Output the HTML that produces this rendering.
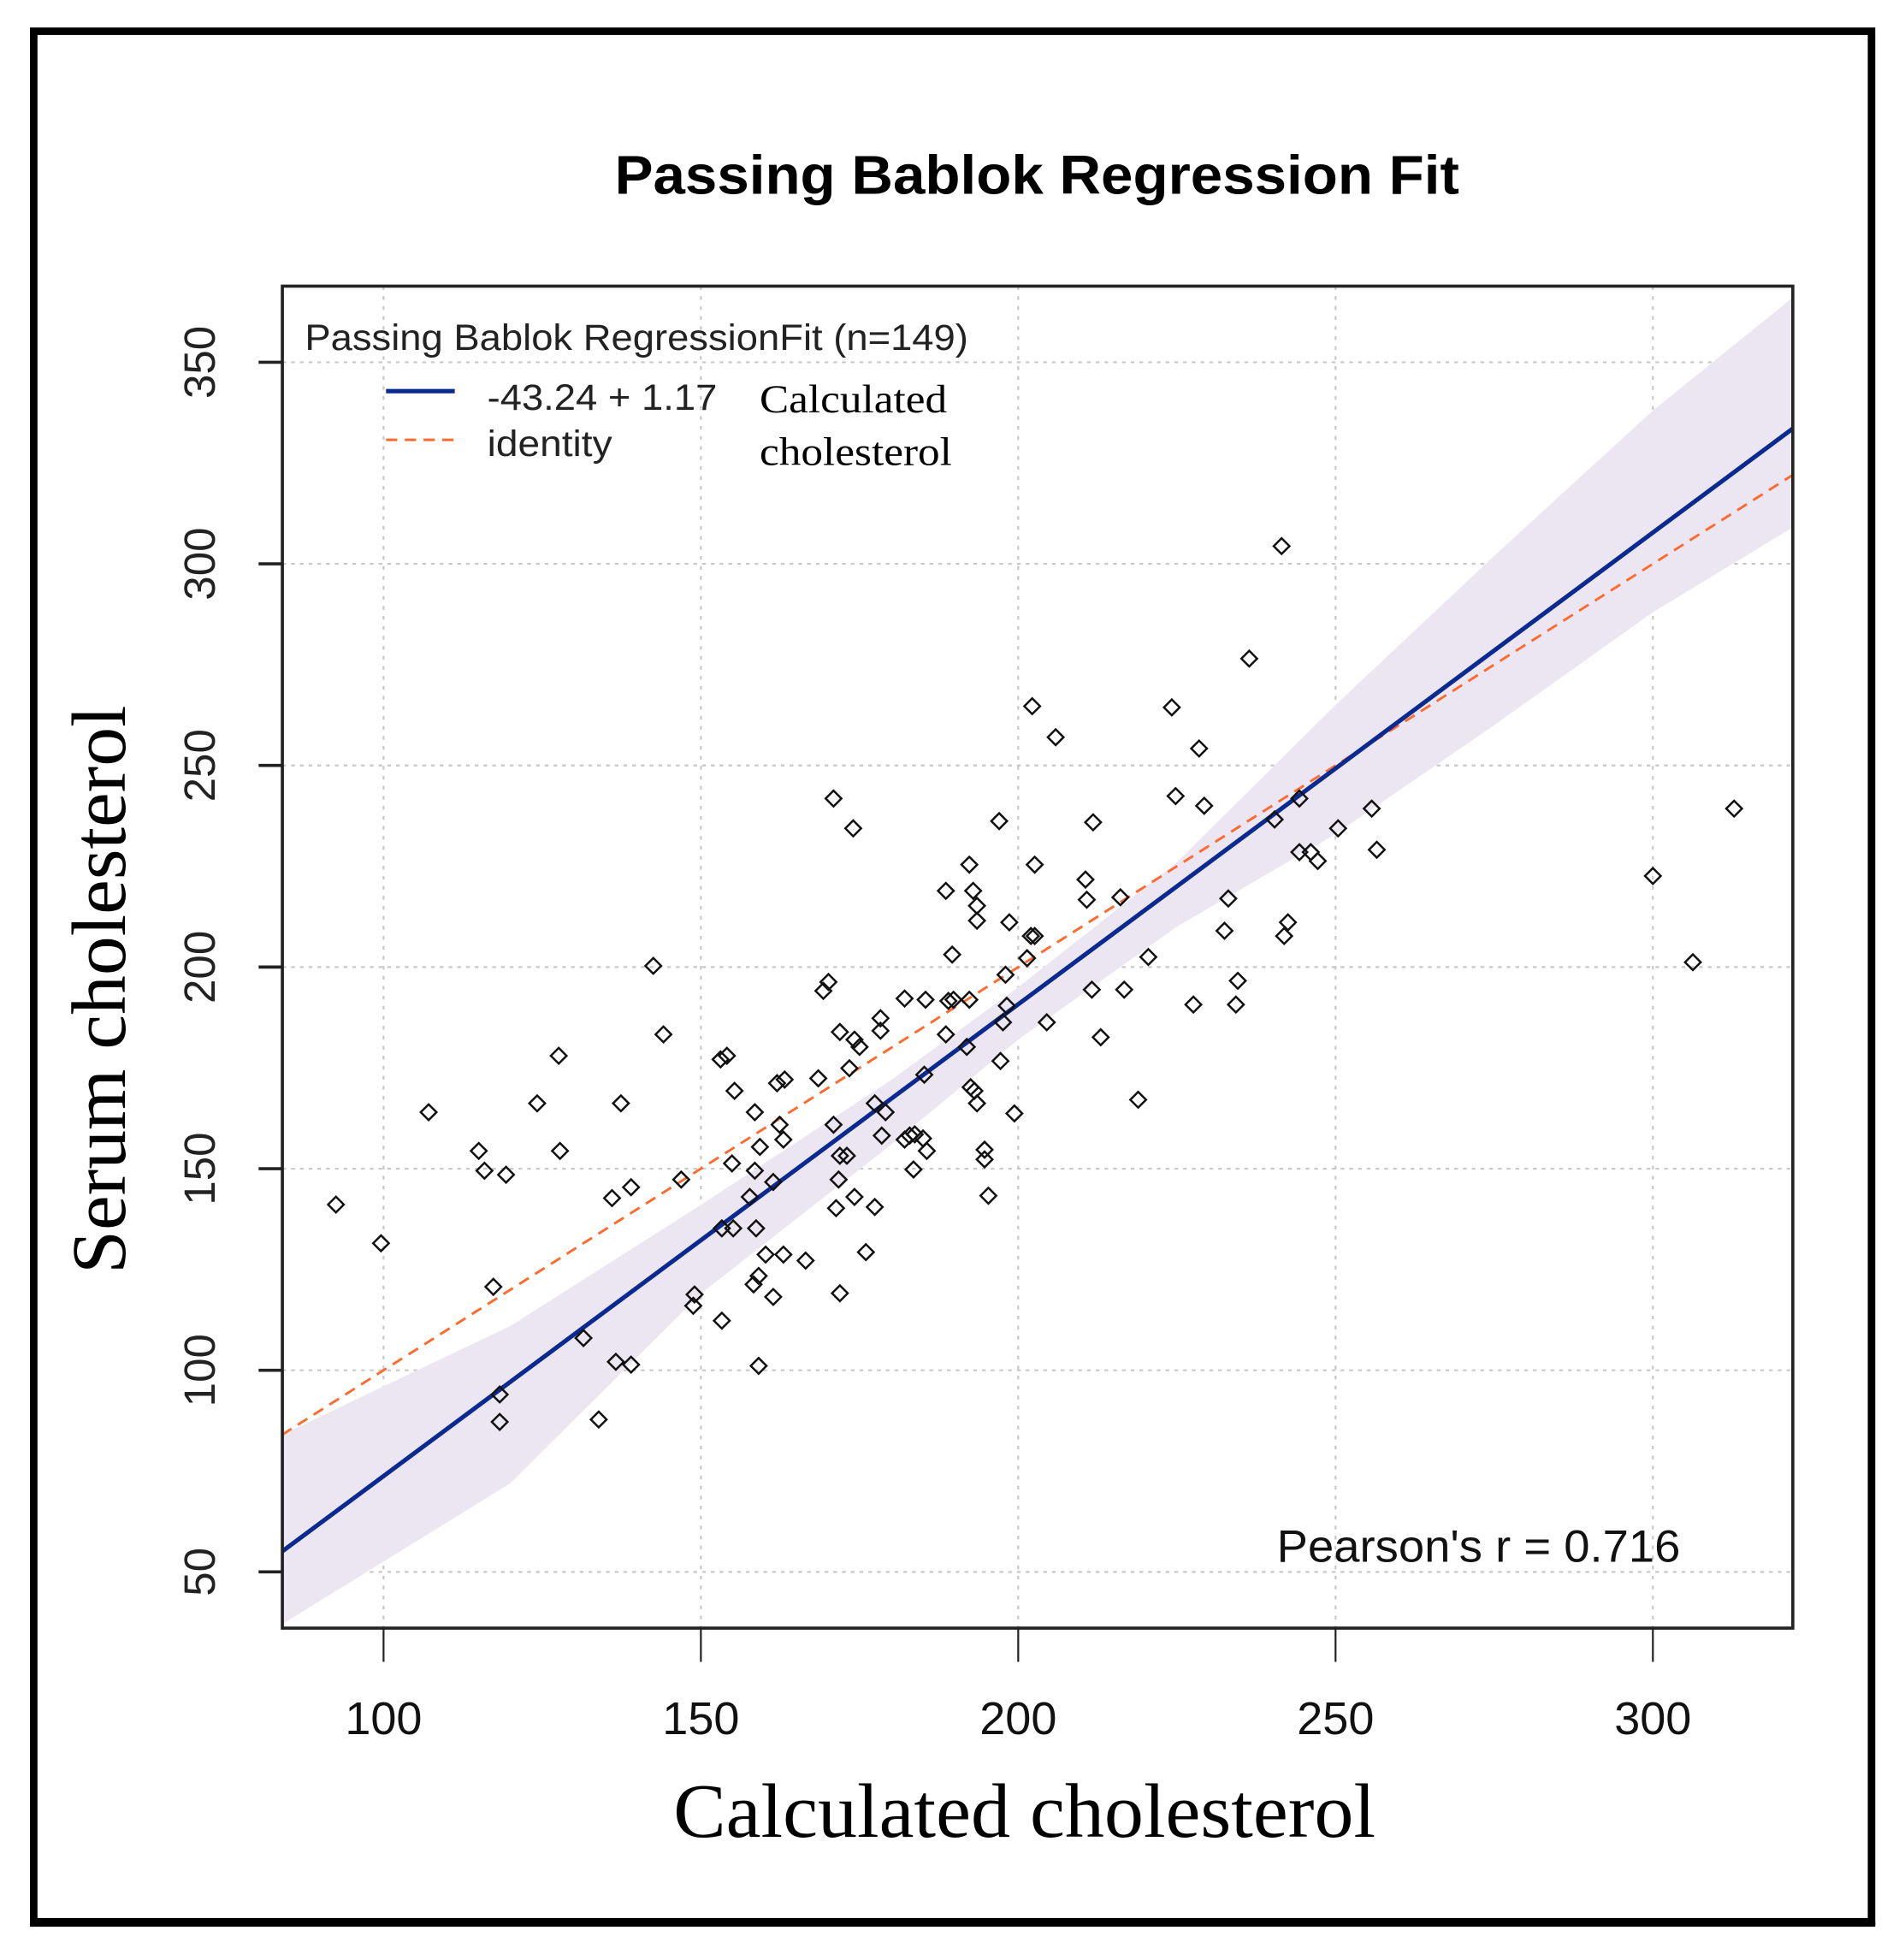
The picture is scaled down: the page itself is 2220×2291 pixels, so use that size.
<!DOCTYPE html>
<html><head><meta charset="utf-8"><style>
html,body{margin:0;padding:0;background:#fff;}
svg{display:block;}
</style></head><body>
<svg id="chart" xmlns="http://www.w3.org/2000/svg" width="2220" height="2291" viewBox="0 0 1520 1568.6">
<rect x="0" y="0" width="1520" height="1569" fill="#fff"/>
<rect x="27" y="25" width="1471" height="1513" fill="none" stroke="#000" stroke-width="6"/>
<line x1="24" y1="1540" x2="1501" y2="1540" stroke="#000" stroke-width="4"/>
<text x="830" y="155" text-anchor="middle" font-family="Liberation Sans, sans-serif" font-weight="bold" font-size="44" textLength="676" lengthAdjust="spacingAndGlyphs">Passing Bablok Regression Fit</text>
<g id="grid"></g>
<g id="band"></g>
<g id="lines"></g>
<g id="points"></g>
<rect x="226" y="229" width="1209" height="1074" fill="none" stroke="#222" stroke-width="2.5"/>
<g id="axes"></g>
<g>
<text x="244" y="280" font-family="Liberation Sans, sans-serif" font-size="29" fill="#222" textLength="531" lengthAdjust="spacingAndGlyphs">Passing Bablok RegressionFit (n=149)</text>
<line x1="309" y1="313" x2="364" y2="313" stroke="#0b2a8f" stroke-width="3.5"/>
<line x1="309" y1="352" x2="364" y2="352" stroke="#ff6a2e" stroke-width="2" stroke-dasharray="9,6"/>
<text x="390" y="328" font-family="Liberation Sans, sans-serif" font-size="29" fill="#222" textLength="184" lengthAdjust="spacingAndGlyphs">-43.24 + 1.17</text>
<text x="390" y="365" font-family="Liberation Sans, sans-serif" font-size="29" fill="#222" textLength="100" lengthAdjust="spacingAndGlyphs">identity</text>
<text x="608" y="330" font-family="Liberation Serif, serif" font-size="32" textLength="150" lengthAdjust="spacingAndGlyphs">Calculated</text>
<text x="608" y="372" font-family="Liberation Serif, serif" font-size="32" textLength="154" lengthAdjust="spacingAndGlyphs">cholesterol</text>
</g>
<text x="1022" y="1250" font-family="Liberation Sans, sans-serif" font-size="36" fill="#111" textLength="323" lengthAdjust="spacingAndGlyphs">Pearson's r = 0.716</text>
<text x="820" y="1470" text-anchor="middle" font-family="Liberation Serif, serif" font-size="62" textLength="562" lengthAdjust="spacingAndGlyphs">Calculated cholesterol</text>
<text transform="translate(100,792) rotate(-90)" text-anchor="middle" font-family="Liberation Serif, serif" font-size="62" textLength="455" lengthAdjust="spacingAndGlyphs">Serum cholesterol</text>
</svg>
<script>
const xTicks = [100, 150, 200, 250, 300];
const yTicks = [50, 100, 150, 200, 250, 300, 350];
const fitIntercept = -43.24;
const fitSlope = 1.17;
const bandX = [84, 120, 150, 180, 200, 225, 250, 275, 300, 322];
const bandUpper = [84, 111, 141, 172, 195, 226, 265, 302, 338, 366];
const bandLower = [37, 72, 119, 156, 182, 210, 233, 260, 288, 309];
const pointsX = [92.5,99.6,107.1,115.0,115.9,119.3,117.3,118.3,118.3,124.2,127.6,127.8,131.5,133.9,136.0,136.6,137.4,139.0,139.0,142.5,144.1,146.9,149.0,148.8,153.3,153.1,154.1,154.9,155.3,155.1,153.3,157.7,158.5,158.5,158.7,158.3,159.1,159.1,159.3,160.2,161.4,161.4,162.0,163.2,162.4,163.0,163.0,166.5,168.5,169.3,170.1,170.9,174.0,170.9,171.3,171.7,171.9,171.9,171.9,173.0,173.4,174.2,175.0,174.2,176.0,177.4,177.4,178.3,178.3,179.1,178.5,182.1,182.1,182.9,183.7,183.5,185.0,185.6,185.2,185.4,188.6,188.6,189.0,189.6,189.8,191.9,192.3,192.3,192.5,192.9,193.1,193.5,193.5,193.5,194.7,194.7,195.3,197.0,197.2,197.6,198.0,198.2,198.6,199.4,201.4,202.2,202.6,202.0,202.6,204.5,205.9,210.6,210.8,211.6,211.8,213.0,216.1,216.7,218.9,220.5,224.2,224.8,227.6,228.5,229.3,232.5,233.1,234.3,234.6,236.4,240.4,241.5,241.9,242.5,244.3,244.3,246.1,247.2,250.4,255.7,256.5,300.0,306.3,312.8];
const pointsY = [141.1,131.5,164.0,154.4,149.5,148.5,120.7,94.0,87.2,166.2,178.0,154.4,108.0,87.8,142.7,102.1,166.2,145.4,101.4,200.3,183.3,147.3,118.8,116.0,112.3,177.1,178.0,151.3,169.3,135.2,135.2,143.0,164.0,149.5,135.2,121.3,123.4,101.1,155.4,128.7,146.7,118.2,171.2,172.1,160.9,157.2,128.7,127.2,172.4,194.1,196.3,241.8,234.4,160.9,140.2,147.3,119.1,183.9,153.2,153.2,174.9,182.0,180.2,143.0,129.3,140.5,166.2,187.3,184.2,164.0,158.2,192.2,157.2,158.2,158.5,149.8,157.5,154.4,173.3,191.9,218.9,183.3,191.6,203.1,191.9,180.2,225.4,191.9,170.2,218.9,169.3,215.2,211.5,166.2,154.7,152.3,143.3,236.2,176.7,186.3,198.1,190.4,211.1,163.7,202.2,264.7,225.4,207.7,207.7,186.3,257.0,221.7,216.7,194.4,235.9,182.6,217.3,194.4,167.1,202.5,264.4,242.4,190.7,254.2,240.0,209.0,217.0,190.7,196.6,276.5,236.6,304.4,207.7,211.1,241.8,228.5,228.5,226.3,234.4,239.3,229.1,222.6,201.2,239.3];

const NS = 'http://www.w3.org/2000/svg';
const X0 = 84, X1 = 322;
function sx(v){ return 307 + (v - 100) * 5.08; }
function sy(v){ return 1258 - (v - 50) * 3.227; }
function mk(tag, attrs, parent){
  const el = document.createElementNS(NS, tag);
  for (const k in attrs) el.setAttribute(k, attrs[k]);
  parent.appendChild(el);
  return el;
}
const grid = document.getElementById('grid');
const axes = document.getElementById('axes');
xTicks.forEach(function(t){
  const g = mk('line', {x1: sx(t), x2: sx(t), y1: 229, y2: 1303, stroke: '#c8c8c8', 'stroke-width': 1.5, 'stroke-dasharray': '3,5'}, grid);
  
  
  const tk = mk('line', {x1: sx(t), x2: sx(t), y1: 1303, y2: 1330, stroke: '#222', 'stroke-width': 1.5}, axes);
  
  
  const lb = mk('text', {x: sx(t), y: 1388, 'text-anchor': 'middle', 'font-family': 'Liberation Sans, sans-serif', 'font-size': 37, fill: '#111'}, axes);
  lb.textContent = t;
  
  
});
yTicks.forEach(function(t){
  const g = mk('line', {x1: 226, x2: 1435, y1: sy(t), y2: sy(t), stroke: '#c8c8c8', 'stroke-width': 1.5, 'stroke-dasharray': '3,4'}, grid);
  
  
  const tk = mk('line', {x1: 207, x2: 226, y1: sy(t), y2: sy(t), stroke: '#222', 'stroke-width': 2.5}, axes);
  
  
  const lb = mk('text', {transform: 'translate(172,' + sy(t) + ') rotate(-90)', 'text-anchor': 'middle', 'font-family': 'Liberation Sans, sans-serif', 'font-size': 35, fill: '#222'}, axes);
  lb.textContent = t;
  
  
});
let d = '';
bandX.forEach(function(x, i){ d += (i ? 'L' : 'M') + sx(x) + ',' + sy(bandUpper[i]); });
for (let i = bandX.length - 1; i >= 0; i--) d += 'L' + sx(bandX[i]) + ',' + sy(bandLower[i]);
const band = mk('path', {d: d + 'Z', fill: '#ebe6f2'}, document.getElementById('band'));


const lines = document.getElementById('lines');
const idl = mk('line', {x1: sx(X0), y1: sy(X0), x2: sx(X1), y2: sy(X1), stroke: '#ff6a2e', 'stroke-width': 2, 'stroke-dasharray': '9,6'}, lines);


const fl = mk('line', {x1: sx(X0), y1: sy(fitIntercept + fitSlope * X0), x2: sx(X1), y2: sy(fitIntercept + fitSlope * X1), stroke: '#0b2a8f', 'stroke-width': 3.5}, lines);


const pts = document.getElementById('points');
pointsX.forEach(function(x, i){
  const cx = sx(x), cy = sy(pointsY[i]), r = 6.3;
  const p = mk('path', {d: 'M' + (cx - r) + ',' + cy + 'L' + cx + ',' + (cy - r) + 'L' + (cx + r) + ',' + cy + 'L' + cx + ',' + (cy + r) + 'Z', fill: 'none', stroke: '#111', 'stroke-width': 1.7}, pts);
  
  
});
</script>
</body></html>
